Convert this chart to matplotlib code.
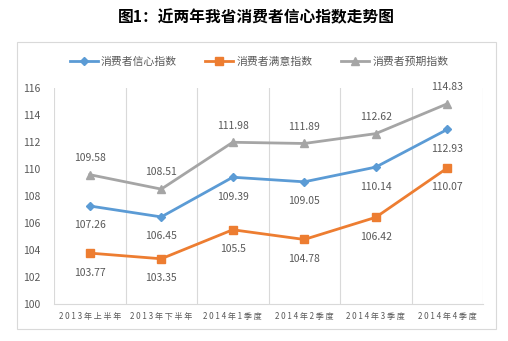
import matplotlib
matplotlib.use("Agg")
import matplotlib.pyplot as plt
from matplotlib.patches import Rectangle

plt.rcParams['font.family'] = ['Noto Sans CJK SC', 'DejaVu Sans']

title = "图1：近两年我省消费者信心指数走势图"
categories = ["2013年上半年", "2013年下半年", "2014年1季度", "2014年2季度", "2014年3季度", "2014年4季度"]
series_names = ["消费者信心指数", "消费者满意指数", "消费者预期指数"]
confidence = [107.26, 106.45, 109.39, 109.05, 110.14, 112.93]
satisfaction = [103.77, 103.35, 105.5, 104.78, 106.42, 110.07]
expectation = [109.58, 108.51, 111.98, 111.89, 112.62, 114.83]
yticks = [100, 102, 104, 106, 108, 110, 112, 114, 116]

W, H = 508, 341
fig = plt.figure(figsize=(W / 100, H / 100), dpi=100)

# outer frame
fig.patches.append(Rectangle((17 / W, 1 - 329 / H), (496 - 17) / W, (329 - 42) / H,
                             transform=fig.transFigure, fill=False,
                             edgecolor="#d9d9d9", linewidth=0.8))

fig.text(256 / W, 1 - 17 / H, title, ha="center", va="center",
         fontsize=11.3, fontweight="bold", color="black")

ax = fig.add_axes([54 / W, 1 - 304 / H, (483 - 54) / W, (304 - 88) / H])
x = list(range(len(categories)))
ax.set_xlim(-0.5, len(categories) - 0.5)
ax.set_ylim(100, 116)
ax.set_yticks(yticks)
ax.set_yticklabels([str(v) for v in yticks], fontsize=7.5, color="#595959")
ax.set_xticks(x)
ax.set_xticklabels([" ".join(c) for c in categories], fontsize=5.8, color="#595959")
ax.tick_params(length=0)
ax.tick_params(axis="x", pad=6)
ax.tick_params(axis="y", pad=10)
for s in ["top", "right", "left"]:
    ax.spines[s].set_visible(False)
ax.spines["bottom"].set_color("#d9d9d9")
for b in [i - 0.5 for i in range(len(categories) + 1)]:
    ax.axvline(b, color="#d9d9d9", linewidth=0.8, zorder=0)

colors = ["#5b9bd5", "#ed7d31", "#a5a5a5"]
markers = ["D", "s", "^"]
msizes = [4, 6, 6]
data = [confidence, satisfaction, expectation]
for vals, c, m, ms, name in zip(data, colors, markers, msizes, series_names):
    ax.plot(x, vals, color=c, marker=m, markersize=ms, linewidth=2, label=name)

def label(xi, yi, txt, dy):
    ax.annotate(txt, (xi, yi), xytext=(0, dy), textcoords="offset points",
                ha="center", va="center", fontsize=7.5, color="#595959")

for i, v in enumerate(confidence):
    label(i, v, f"{v:g}", -14)
for i, v in enumerate(satisfaction):
    label(i, v, f"{v:g}", -14)
for i, v in enumerate(expectation):
    label(i, v, f"{v:g}", 12)

leg = fig.legend(loc="center", bbox_to_anchor=(259 / W, 1 - 62 / H), ncol=3,
                 frameon=False, fontsize=7.8, handlelength=2.6, columnspacing=2.6,
                 handletextpad=0.3)
for t in leg.get_texts():
    t.set_color("#595959")

fig.savefig("out.png", dpi=100)
